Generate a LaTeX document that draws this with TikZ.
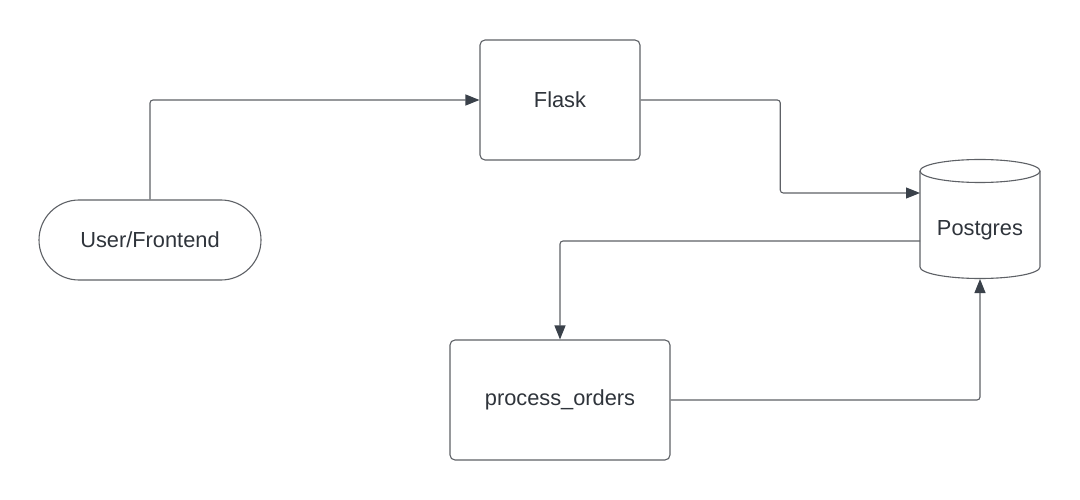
\documentclass[tikz,border=0pt]{standalone}
\usepackage{fontspec}
\setmainfont{Liberation Sans}
\usetikzlibrary{arrows.meta,calc}
\definecolor{linec}{HTML}{5E6166}
\definecolor{tipc}{HTML}{3A414A}
\definecolor{textc}{HTML}{2F343B}
\tikzset{
  box/.style={draw=linec, line width=1.1pt, rounded corners=5pt, minimum width=160pt, minimum height=120pt, text=textc, font=\fontsize{21.8}{26}\selectfont, inner sep=0pt},
  stadium/.style={draw=linec, line width=1.1pt, rounded corners=40pt, minimum width=222pt, minimum height=80pt, text=textc, font=\fontsize{21.8}{26}\selectfont, inner sep=0pt},
  plain/.style={minimum width=120pt, text=textc, font=\fontsize{21.8}{26}\selectfont, inner sep=0pt},
  conn/.style={draw=linec, line width=1.1pt, rounded corners=3pt, -{Triangle[length=14pt,width=11pt,color=tipc]}},
  connline/.style={draw=linec, line width=1.1pt, rounded corners=3pt},
  cyl/.style={draw=linec, line width=1.1pt}
}
\begin{document}
\begin{tikzpicture}[x=1pt,y=-1pt]
\useasboundingbox (0,0) rectangle (1080,500);
\fill[white] (0,0) rectangle (1080,500);
% nodes
\node[stadium] (user) at (150,240) {User/Frontend};
\node[box] (flask) at (560,100) {Flask};
\node[box, minimum width=220pt] (po) at (560,400) {process\_orders};
% cylinder
\draw[cyl] (920,171) -- (920,267) arc[start angle=180, end angle=360, x radius=60pt, y radius=11.5pt] -- (1040,171);
\draw[cyl] (980,171) ellipse[x radius=60pt, y radius=11.5pt];
\node[plain] (pg) at (980,230) {Postgres};
\coordinate (pgin) at (920,193);
\coordinate (pgout) at (920,241);
\coordinate (pgbot) at (980,279);
% connectors
\draw[conn] (user.north) |- (flask.west);
\draw[conn] (flask.east) -| ($(flask.east)!0.5!(pgin)$) |- (pgin);
\draw[conn] (pgout) -| (po.north);
\draw[conn] (po.east) -| (pgbot);
\end{tikzpicture}
\end{document}
